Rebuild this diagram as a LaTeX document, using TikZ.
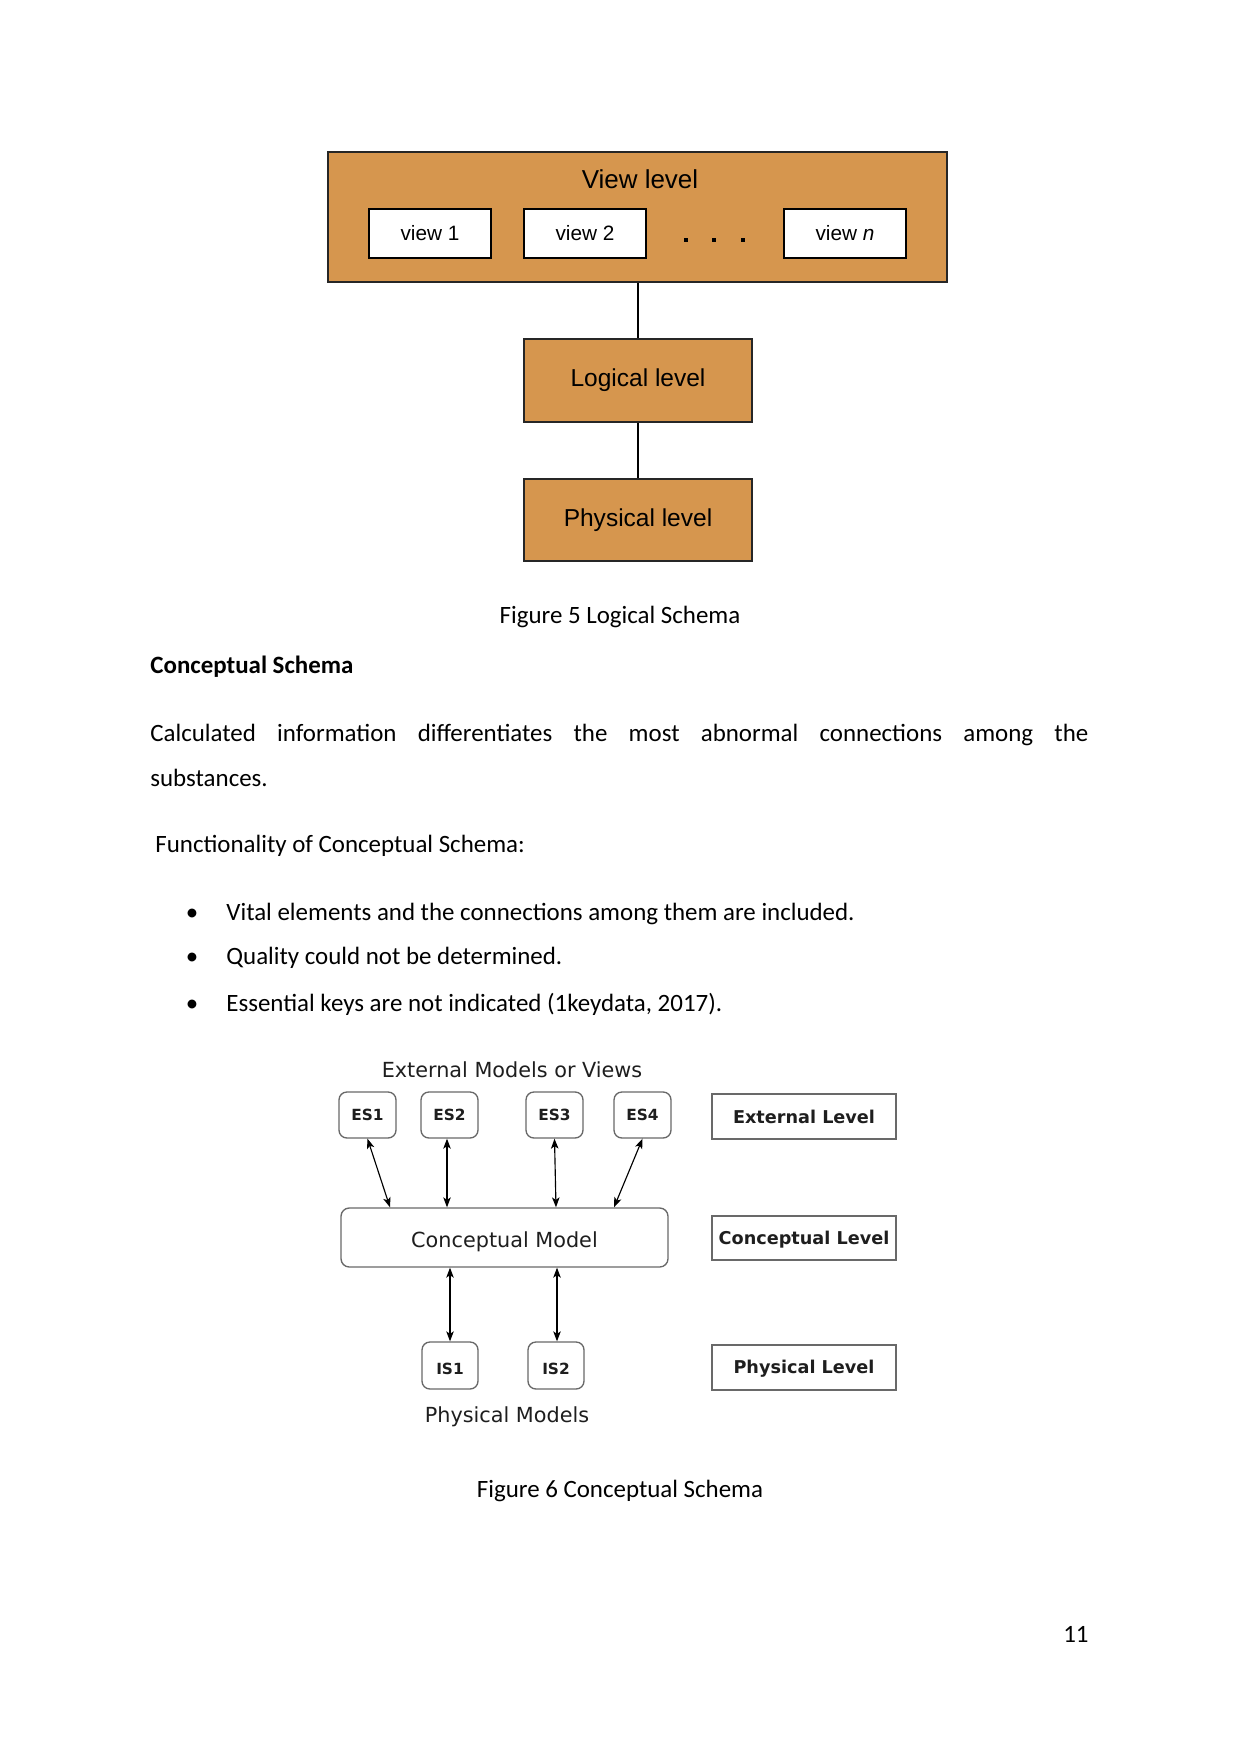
\documentclass[tikz,border=0pt]{standalone}
\usepackage{fontspec}
\setmainfont{Carlito}
\newfontfamily\arialf{Liberation Sans}
\newfontfamily\dejavu{DejaVu Sans}
\usetikzlibrary{arrows.meta,calc}
\newlength\upx
\setlength\upx{0.016922cm}
\definecolor{orangefill}{RGB}{214,150,78}
\definecolor{boxgray}{RGB}{105,105,105}
\definecolor{figtext}{RGB}{30,30,30}
\begin{document}
\begin{tikzpicture}[x=0.016922cm,y=-0.016922cm,
  wh/.style 2 args={minimum width={#1*\upx},minimum height={#2*\upx},inner sep=0pt},
  orangebox/.style={draw=black!85,fill=orangefill,line width=0.7pt,
    font=\arialf\fontsize{11.8}{14}\selectfont},
  viewbox/.style={draw=black,fill=white,line width=0.8pt,wh={122}{49},
    font=\arialf\fontsize{10}{12}\selectfont},
  esbox/.style={draw=boxgray,rounded corners=3.8pt,line width=0.65pt,wh={57}{46},
    text height=5.4pt,text depth=0pt,
    text=figtext,font=\dejavu\bfseries\fontsize{7.4}{9}\selectfont},
  isbox/.style={esbox,wh={56}{47},text height=8.8pt},
  levelbox/.style={draw=boxgray,line width=0.65pt,wh={184}{45},
    text height=6.7pt,text depth=0pt,
    text=figtext,font=\dejavu\bfseries\fontsize{8.5}{10}\selectfont},
  figlabel/.style={text=figtext,font=\dejavu\fontsize{10}{12}\selectfont,inner sep=0pt},
  dblarrow/.style={>={Stealth[length=4.8pt,width=3.6pt,inset=1.2pt]},<->,line width=0.55pt},
  body/.style={font=\fontsize{12}{14}\selectfont,inner sep=0pt},
  bodybold/.style={font=\bfseries\fontsize{12}{14}\selectfont,inner sep=0pt}
]
\useasboundingbox (0,0) rectangle (1241,1754);

% ---------- Figure 5 ----------
\node[orangebox, wh={619}{130}] (viewlevel) at (637.5,217) {};
\node[font=\arialf\fontsize{12.5}{14}\selectfont, anchor=base, inner sep=0pt] (vltitle) at (640,189) {View level};
\node[viewbox] (v1) at (430,233.5) {view 1};
\node[viewbox] (v2) at (585,233.5) {view 2};
\node[viewbox] (vn) at (845,233.5) {view {\itshape n}};
\foreach \x in {686,714,743} \fill (\x-2,238) rectangle (\x+2,242);
\node[orangebox, wh={228}{83}] (logical) at (638,380.5) {Logical level};
\node[orangebox, wh={228}{82}] (physical) at (638,520) {Physical level};
\draw[line width=0.6pt] (logical.north |- viewlevel.south) -- (logical.north);
\draw[line width=0.6pt] (logical.south) -- (physical.north);

\node[body, anchor=base] (cap5) at (620,623) {Figure 5 Logical Schema};

% ---------- Text ----------
\node[bodybold, anchor=base west] (heading) at (150,673) {Conceptual Schema};
\node[body, anchor=base west] (p1) at (150,741)
  {\makebox[938\upx][s]{Calculated information differentiates the most abnormal connections among the}};
\node[body, anchor=base west] (p2) at (150,786) {substances.};
\node[body, anchor=base west] (func) at (155,852) {Functionality of Conceptual Schema:};
\node[body, anchor=base] (b1) at (192,920) {•};
\node[body, anchor=base] (b2) at (192,964) {•};
\node[body, anchor=base] (b3) at (192,1011) {•};
\node[body, anchor=base west] (t1) at (226,920) {Vital elements and the connections among them are included.};
\node[body, anchor=base west] (t2) at (226,964) {Quality could not be determined.};
\node[body, anchor=base west] (t3) at (226,1011) {Essential keys are not indicated (1keydata, 2017).};

% ---------- Figure 6 ----------
\node[figlabel, anchor=base] (exttitle) at (512,1077) {External Models or Views};
\node[esbox] (es1) at (367.5,1115) {ES1};
\node[esbox] (es2) at (449.5,1115) {ES2};
\node[esbox] (es3) at (554.5,1115) {ES3};
\node[esbox] (es4) at (642.5,1115) {ES4};
\node[draw=boxgray, rounded corners=4pt, line width=0.65pt, wh={327}{59},
  text height=9.7pt, text depth=0pt,
  text=figtext, font=\dejavu\fontsize{10}{12}\selectfont] (concmodel) at (504.5,1237.5) {Conceptual Model};
\node[isbox] (is1) at (450,1365.5) {IS1};
\node[isbox] (is2) at (556,1365.5) {IS2};
\node[figlabel, anchor=base] (physmodels) at (507,1422) {Physical Models};

\node[levelbox] (extlevel) at (804,1116.5) {External Level};
\node[levelbox, wh={184}{44}] (conclevel) at (804,1238) {Conceptual Level};
\node[levelbox, text height=6.2pt] (physlevel) at (804,1367.5) {Physical Level};

\draw[dblarrow] (es1.south) -- (390,0 |- concmodel.north);
\draw[dblarrow] (447,0 |- es2.south) -- (447,0 |- concmodel.north);
\draw[dblarrow] (es3.south) -- (556,0 |- concmodel.north);
\draw[dblarrow] (es4.south) -- (614,0 |- concmodel.north);
\draw[dblarrow] (450,0 |- concmodel.south) -- (is1.north);
\draw[dblarrow] (557,0 |- concmodel.south) -- (557,0 |- is2.north);

\node[body, anchor=base] (cap6) at (620,1497) {Figure 6 Conceptual Schema};
\node[body, anchor=base east] (pageno) at (1089,1642) {11};
\end{tikzpicture}
\end{document}
